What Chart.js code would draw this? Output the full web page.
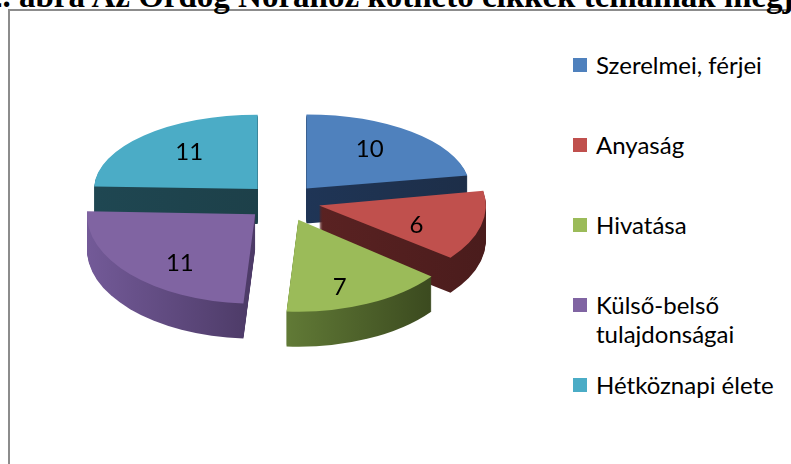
<!DOCTYPE html>
<html>
<head>
<meta charset="utf-8">
<script src="https://cdn.jsdelivr.net/npm/chart.js@4"></script>
<style>
  html, body { margin: 0; padding: 0; background: #fff; width: 791px; height: 464px; overflow: hidden; position: relative; }
  #frame { position: absolute; left: 8px; top: 9px; width: 900px; height: 600px; border: 2px solid #8c8c8c; }
  #title { position: absolute; left: -14px; top: -20px; font: bold 33px/33px "Liberation Serif", serif; white-space: nowrap; color: #000; }
  #pieBox { position: absolute; left: 63px; top: 1px; }
  #legend { position: absolute; left: 573px; top: 50px; width: 218px; font: 24px/29px Lato, sans-serif; color: #000; }
  .item { position: relative; height: 80px; padding-left: 23px; }
  .box { position: absolute; left: 0; top: 8px; width: 14px; height: 14px; }
</style>
</head>
<body>
<div id="frame"></div>
<div id="title">2. ábra Az Ördög Nórához köthető cikkek témáinak megjelenése</div>
<div id="pieBox"><canvas id="pie" width="440" height="400"></canvas></div>
<div id="legend"></div>
<script>
const categories = ['Szerelmei, férjei', 'Anyaság', 'Hivatása', 'Külső-belső tulajdonságai', 'Hétköznapi élete'];
const articleCounts = [10, 6, 7, 11, 11];

const topColors = ['#4f81bd', '#c0504d', '#9bbb59', '#8064a2', '#4bacc6'];
const sideColors = [
    ['#1f3556', '#1d2e48'],
    ['#5a2222', '#4a1c1c'],
    ['#617a36', '#3b4a1f'],
    ['#735a98', '#4c3a66'],
    ['#1f4752', '#1d4049']
];

const EXPLODE = 37;   // how far each slice is pulled out
const DEPTH = 35;     // thickness of the 3d pie
const LABEL_R = 100;

function midAngle(arc) {
    return (arc.startAngle + arc.endAngle) / 2;
}

// fake 3d: squash every slice, stack dark copies below it, then the top face
const pie3d = {
    id: 'pie3d',
    beforeDatasetsDraw(chart) {
        const ctx = chart.ctx;
        const arcs = chart.getDatasetMeta(0).data;
        const order = arcs.map((a, i) => i)
            .sort((a, b) => Math.sin(midAngle(arcs[a])) - Math.sin(midAngle(arcs[b])));

        order.forEach(i => {
            const arc = arcs[i];
            const m = midAngle(arc);
            const s = Math.sin(m);
            const ky = 0.495 + 0.065 * s;
            const kx = 1 + 0.02 * s;
            const ex = Math.cos(m) * EXPLODE;
            const ey = Math.sin(m) * EXPLODE;
            const R = arc.outerRadius;

            function place(dy) {
                ctx.translate(arc.x, arc.y + dy);
                ctx.scale(kx, ky);
                ctx.translate(-arc.x + ex, -arc.y + ey);
            }

            let minX = 0, maxX = 0;
            for (let t = 0; t <= 20; t++) {
                const a = arc.startAngle + (arc.endAngle - arc.startAngle) * t / 20;
                minX = Math.min(minX, Math.cos(a) * R);
                maxX = Math.max(maxX, Math.cos(a) * R);
            }

            for (let dy = DEPTH; dy > 0; dy--) {
                ctx.save();
                place(dy);
                const grad = ctx.createLinearGradient(arc.x + minX, 0, arc.x + maxX, 0);
                grad.addColorStop(0, sideColors[i][0]);
                grad.addColorStop(1, sideColors[i][1]);
                ctx.fillStyle = grad;
                ctx.beginPath();
                ctx.moveTo(arc.x, arc.y);
                ctx.arc(arc.x, arc.y, R, arc.startAngle, arc.endAngle);
                ctx.closePath();
                ctx.fill();
                ctx.restore();
            }

            ctx.save();
            place(0);
            arc.draw(ctx);
            ctx.restore();
        });

        // value labels
        ctx.save();
        ctx.font = '24px Lato, sans-serif';
        ctx.fillStyle = '#000';
        ctx.textAlign = 'center';
        ctx.textBaseline = 'middle';
        arcs.forEach((arc, i) => {
            const m = midAngle(arc);
            const s = Math.sin(m);
            const ky = 0.495 + 0.065 * s;
            const kx = 1 + 0.02 * s;
            const x = arc.x + kx * (EXPLODE + LABEL_R) * Math.cos(m);
            const y = arc.y + 4 + ky * EXPLODE * s + 1.25 * ky * LABEL_R * s;
            ctx.fillText(String(chart.data.datasets[0].data[i]), x, y);
        });
        ctx.restore();
        return false;
    }
};

const myChart = new Chart(document.getElementById('pie'), {
    type: 'pie',
    data: {
        labels: categories,
        datasets: [{
            data: articleCounts,
            backgroundColor: topColors,
            borderWidth: 0
        }]
    },
    options: {
        responsive: false,
        animation: false,
        events: [],
        radius: 166,
        layout: { padding: 0 },
        plugins: {
            legend: { display: false },
            tooltip: { enabled: false }
        }
    },
    plugins: [pie3d]
});

// legend on the right, as html text
const legendElem = document.getElementById('legend');
myChart.data.labels.forEach((label, i) => {
    const item = document.createElement('div');
    item.className = 'item';
    const box = document.createElement('span');
    box.className = 'box';
    box.style.background = myChart.data.datasets[0].backgroundColor[i];
    item.appendChild(box);
    item.appendChild(document.createTextNode(label));
    legendElem.appendChild(item);
});
</script>
</body>
</html>
